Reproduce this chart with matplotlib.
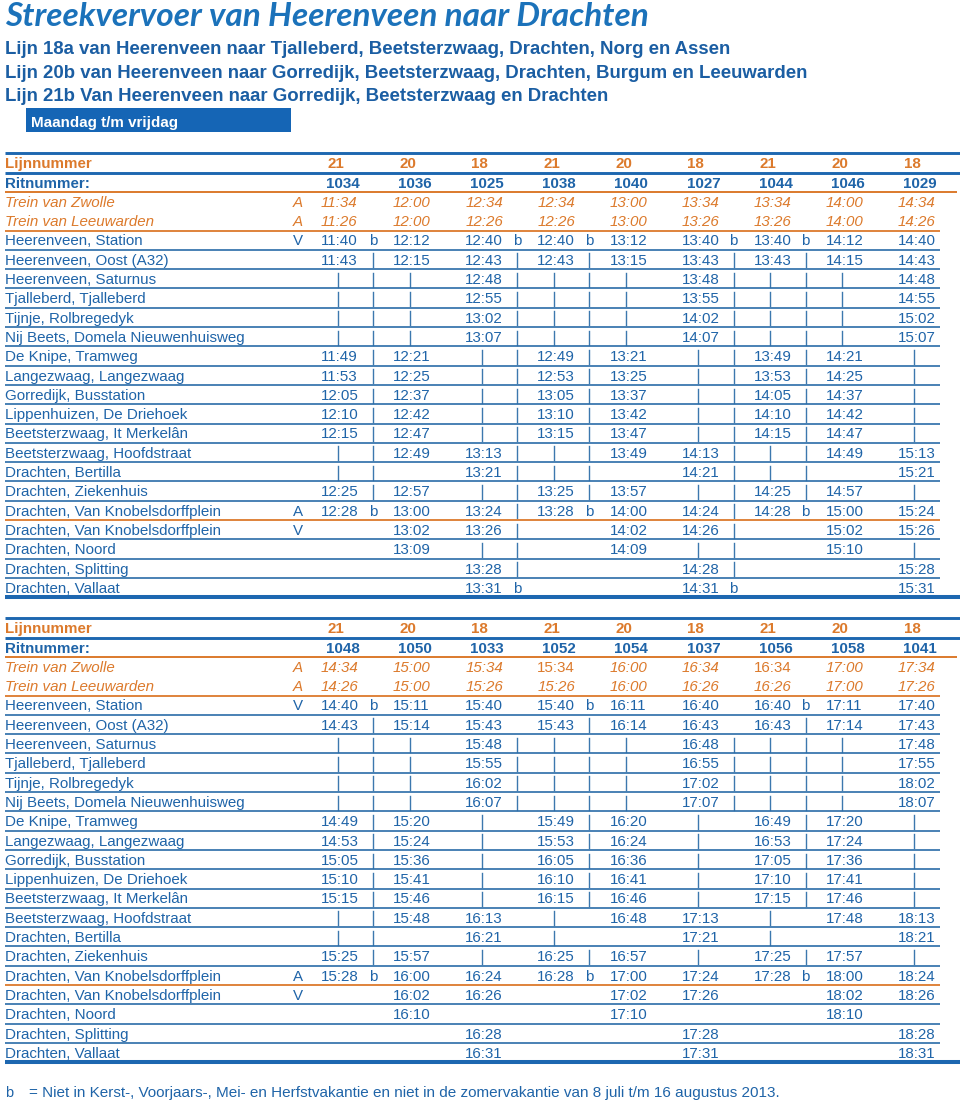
import matplotlib
matplotlib.use("Agg")
import matplotlib.pyplot as plt
from matplotlib.patches import Rectangle

# colours
BLUE = "#1f64a8"
TITLE_BLUE = "#1b72ba"
ORANGE = "#dc7a2c"
LINE_BLUE = "#2a6ca8"
BAR_BLUE = "#3c78ae"
FONT = "Liberation Sans"

title = "Streekvervoer van Heerenveen naar Drachten"
subtitles = [
    "Lijn 18a van Heerenveen naar Tjalleberd, Beetsterzwaag, Drachten, Norg en Assen",
    "Lijn 20b van Heerenveen naar Gorredijk, Beetsterzwaag, Drachten, Burgum en Leeuwarden",
    "Lijn 21b Van Heerenveen naar Gorredijk, Beetsterzwaag en Drachten",
]
day_label = "Maandag t/m vrijdag"
footnote = "= Niet in Kerst-, Voorjaars-, Mei- en Herfstvakantie en niet in de zomervakantie van 8 juli t/m 16 augustus 2013."

stops = [
    "Trein van Zwolle", "Trein van Leeuwarden", "Heerenveen, Station",
    "Heerenveen, Oost (A32)", "Heerenveen, Saturnus", "Tjalleberd, Tjalleberd",
    "Tijnje, Rolbregedyk", "Nij Beets, Domela Nieuwenhuisweg", "De Knipe, Tramweg",
    "Langezwaag, Langezwaag", "Gorredijk, Busstation", "Lippenhuizen, De Driehoek",
    "Beetsterzwaag, It Merkelân", "Beetsterzwaag, Hoofdstraat", "Drachten, Bertilla",
    "Drachten, Ziekenhuis", "Drachten, Van Knobelsdorffplein",
    "Drachten, Van Knobelsdorffplein", "Drachten, Noord", "Drachten, Splitting",
    "Drachten, Vallaat",
]
av_codes = ["A", "A", "V", "", "", "", "", "", "", "", "", "", "", "", "", "",
            "A", "V", "", "", ""]

# "|" in a time cell = bus passes without stopping; marks: b / | / .
lines_1 = ["21", "20", "18", "21", "20", "18", "21", "20", "18"]
trips_1 = ["1034", "1036", "1025", "1038", "1040", "1027", "1044", "1046", "1029"]
times_1 = [
    ["11:34", "12:00", "12:34", "12:34", "13:00", "13:34", "13:34", "14:00", "14:34"],
    ["11:26", "12:00", "12:26", "12:26", "13:00", "13:26", "13:26", "14:00", "14:26"],
    ["11:40", "12:12", "12:40", "12:40", "13:12", "13:40", "13:40", "14:12", "14:40"],
    ["11:43", "12:15", "12:43", "12:43", "13:15", "13:43", "13:43", "14:15", "14:43"],
    ["|", "|", "12:48", "|", "|", "13:48", "|", "|", "14:48"],
    ["|", "|", "12:55", "|", "|", "13:55", "|", "|", "14:55"],
    ["|", "|", "13:02", "|", "|", "14:02", "|", "|", "15:02"],
    ["|", "|", "13:07", "|", "|", "14:07", "|", "|", "15:07"],
    ["11:49", "12:21", "|", "12:49", "13:21", "|", "13:49", "14:21", "|"],
    ["11:53", "12:25", "|", "12:53", "13:25", "|", "13:53", "14:25", "|"],
    ["12:05", "12:37", "|", "13:05", "13:37", "|", "14:05", "14:37", "|"],
    ["12:10", "12:42", "|", "13:10", "13:42", "|", "14:10", "14:42", "|"],
    ["12:15", "12:47", "|", "13:15", "13:47", "|", "14:15", "14:47", "|"],
    ["|", "12:49", "13:13", "|", "13:49", "14:13", "|", "14:49", "15:13"],
    ["|", "", "13:21", "|", "", "14:21", "|", "", "15:21"],
    ["12:25", "12:57", "|", "13:25", "13:57", "|", "14:25", "14:57", "|"],
    ["12:28", "13:00", "13:24", "13:28", "14:00", "14:24", "14:28", "15:00", "15:24"],
    ["", "13:02", "13:26", "", "14:02", "14:26", "", "15:02", "15:26"],
    ["", "13:09", "|", "", "14:09", "|", "", "15:10", "|"],
    ["", "", "13:28", "", "", "14:28", "", "", "15:28"],
    ["", "", "13:31", "", "", "14:31", "", "", "15:31"],
]
marks_1 = [
    ".........", ".........", "b.bb.bb..", "|.||.||..", "|.||.||..", "|.||.||..",
    "|.||.||..", "|.||.||..", "|.||.||..", "|.||.||..", "|.||.||..", "|.||.||..",
    "|.||.||..", "|.||.||..", "|.||.||..", "|.||.||..", "b.|b.|b..", "..|..|...",
    "..|..|...", "..|..|...", "..b..b...",
]

lines_2 = ["21", "20", "18", "21", "20", "18", "21", "20", "18"]
trips_2 = ["1048", "1050", "1033", "1052", "1054", "1037", "1056", "1058", "1041"]
times_2 = [
    ["14:34", "15:00", "15:34", "15:34", "16:00", "16:34", "16:34", "17:00", "17:34"],
    ["14:26", "15:00", "15:26", "15:26", "16:00", "16:26", "16:26", "17:00", "17:26"],
    ["14:40", "15:11", "15:40", "15:40", "16:11", "16:40", "16:40", "17:11", "17:40"],
    ["14:43", "15:14", "15:43", "15:43", "16:14", "16:43", "16:43", "17:14", "17:43"],
    ["|", "|", "15:48", "|", "|", "16:48", "|", "|", "17:48"],
    ["|", "|", "15:55", "|", "|", "16:55", "|", "|", "17:55"],
    ["|", "|", "16:02", "|", "|", "17:02", "|", "|", "18:02"],
    ["|", "|", "16:07", "|", "|", "17:07", "|", "|", "18:07"],
    ["14:49", "15:20", "|", "15:49", "16:20", "|", "16:49", "17:20", "|"],
    ["14:53", "15:24", "|", "15:53", "16:24", "|", "16:53", "17:24", "|"],
    ["15:05", "15:36", "|", "16:05", "16:36", "|", "17:05", "17:36", "|"],
    ["15:10", "15:41", "|", "16:10", "16:41", "|", "17:10", "17:41", "|"],
    ["15:15", "15:46", "|", "16:15", "16:46", "|", "17:15", "17:46", "|"],
    ["|", "15:48", "16:13", "|", "16:48", "17:13", "|", "17:48", "18:13"],
    ["|", "", "16:21", "|", "", "17:21", "|", "", "18:21"],
    ["15:25", "15:57", "|", "16:25", "16:57", "|", "17:25", "17:57", "|"],
    ["15:28", "16:00", "16:24", "16:28", "17:00", "17:24", "17:28", "18:00", "18:24"],
    ["", "16:02", "16:26", "", "17:02", "17:26", "", "18:02", "18:26"],
    ["", "16:10", "", "", "17:10", "", "", "18:10", ""],
    ["", "", "16:28", "", "", "17:28", "", "", "18:28"],
    ["", "", "16:31", "", "", "17:31", "", "", "18:31"],
]
marks_2 = [
    ".........", ".........", "b..b..b..", "|..|..|..", "|.||.||..", "|.||.||..",
    "|.||.||..", "|.||.||..", "|..|..|..", "|..|..|..", "|..|..|..", "|..|..|..",
    "|..|..|..", "|........", "|........", "|..|..|..", "b..b..b..", ".........",
    ".........", ".........", ".........",
]
upright_2 = [(0, 3), (0, 6)]  # train times printed upright in the source

# layout (pixel space)
FS = 10.9
ROW = 19.3
X_NAME, X_AV, X0, PITCH = 5, 298, 321, 72.1

fig = plt.figure(figsize=(9.6, 11.05), dpi=100)
ax = fig.add_axes([0, 0, 1, 1])
ax.set_xlim(0, 960)
ax.set_ylim(1105, 0)
ax.axis("off")


def hline(y, x1, color, lw):
    ax.plot([5, x1], [y, y], color=color, lw=lw, solid_capstyle="butt")


def txt(x, y, s, **kw):
    kw.setdefault("family", FONT)
    kw.setdefault("fontsize", FS)
    kw.setdefault("color", BLUE)
    return ax.text(x, y, s, va="baseline", **kw)


def fit_text(x, y, s, width, size, **kw):
    t = ax.text(x, y, s, va="baseline", fontsize=size, **kw)
    r = fig.canvas.get_renderer()
    w = t.get_window_extent(renderer=r).width
    t.set_fontsize(size * width / w)
    return t


def draw_table(top, lines, trips, times, marks, upright=()):
    base = lambda r: top + ROW * (r + 0.5) + 5.3
    hline(top, 960, "#1d67b0", 2.1)
    txt(X_NAME, base(0), "Lijnnummer", color=ORANGE, weight="bold")
    for j, s in enumerate(lines):
        txt(X0 + j * PITCH + 6, base(0), s, color=ORANGE, weight="bold")
    hline(top + ROW, 960, "#1d67b0", 2.1)
    txt(X_NAME, base(1), "Ritnummer:", weight="bold")
    for j, s in enumerate(trips):
        txt(X0 + j * PITCH + 5, base(1), s, weight="bold")
    hline(top + 2 * ROW, 957, ORANGE, 1.4)
    n = len(stops)
    for i, name in enumerate(stops):
        r = i + 2
        yc = top + ROW * (r + 0.5)
        train = i < 2
        col = ORANGE if train else BLUE
        sty = "italic" if train else "normal"
        txt(X_NAME, base(r), name, color=col, style=sty)
        if av_codes[i]:
            txt(X_AV, base(r), av_codes[i], color=col, style=sty, ha="center")
        for j in range(9):
            x = X0 + j * PITCH
            t = times[i][j]
            if t == "|":
                ax.plot([x + 16.5] * 2, [yc - 6, yc + 8], color=BAR_BLUE, lw=1.0)
            elif t:
                s2 = "normal" if (i, j) in upright else sty
                txt(x, base(r), t, color=col, style=s2)
            m = marks[i][j]
            if m == "b":
                txt(x + 52, base(r), "b", ha="center")
            elif m == "|":
                ax.plot([x + 52] * 2, [yc - 6, yc + 8], color=BAR_BLUE, lw=1.0)
        yb = top + ROW * (r + 1)
        if i == 0:
            continue
        if i == n - 1:
            hline(yb, 960, "#1d67b0", 2.9)
        elif i == 1 or i == 16:
            hline(yb, 940, ORANGE, 1.3)
        else:
            hline(yb, 940, LINE_BLUE, 1.2)


# header
fit_text(5, 26, title, 645, 24, family=["Lato", "Open Sans"], weight="bold",
         style="italic", color=TITLE_BLUE)
sub1 = fit_text(5, 54 + 23.5, subtitles[1], 801, 12, family=FONT, weight="bold",
                color="#1b5ea3")
for k in (0, 2):
    txt(5, 54 + 23.5 * k, subtitles[k], fontsize=sub1.get_fontsize(),
        weight="bold", color="#1b5ea3")
ax.add_patch(Rectangle((26, 108), 265, 24, color="#1565b5", lw=0))
txt(31, 127, day_label, color="white", weight="bold", fontsize=10.9)

draw_table(153.3, lines_1, trips_1, times_1, marks_1)
draw_table(618.3, lines_2, trips_2, times_2, marks_2, upright_2)

# footnote
txt(5, 1097, "b", fontsize=10.5)
fit_text(29, 1097, footnote, 761, 10.5, family=["Liberation Sans Narrow", FONT],
         color=BLUE)

fig.savefig("out.png", dpi=100)
